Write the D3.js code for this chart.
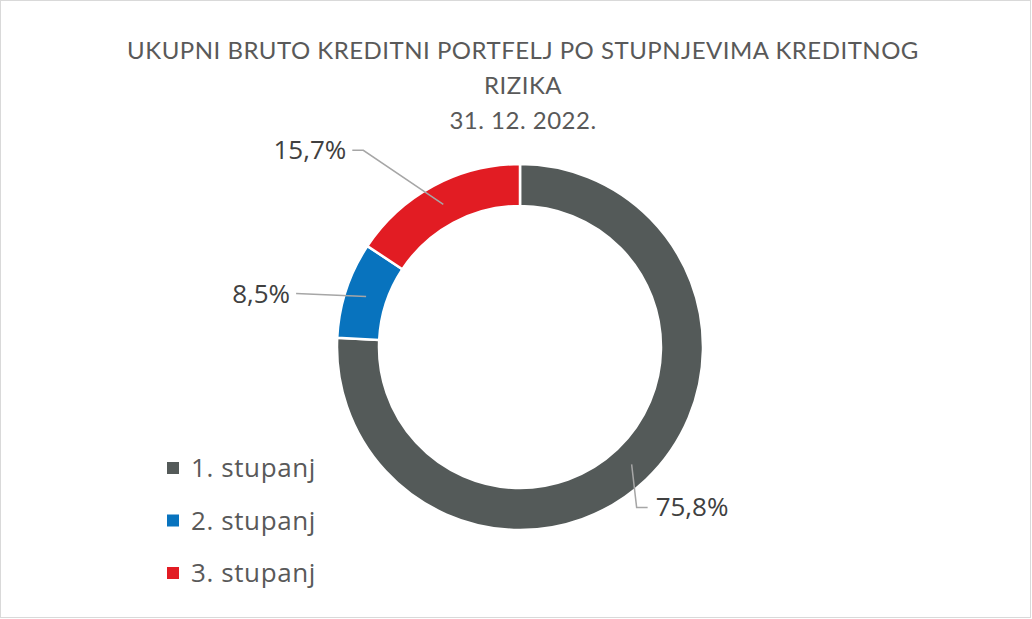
<!DOCTYPE html>
<html>
<head>
<meta charset="utf-8">
<script src="https://cdn.jsdelivr.net/npm/d3@7"></script>
<style>
  body { margin: 0; background: #fff; }
  text { font-family: Lato, "Open Sans", sans-serif; }
</style>
</head>
<body>
<div id="chart"></div>
<script>
// data
var categories = ['1. stupanj', '2. stupanj', '3. stupanj'];
var values = [75.8, 8.5, 15.7];
var colors = ['#545a59', '#0873be', '#e21c23'];
var titleLines = ['UKUPNI BRUTO KREDITNI PORTFELJ PO STUPNJEVIMA KREDITNOG', 'RIZIKA', '31. 12. 2022.'];

// label layout: where each leader line ends, relative to slice centroid
var labelOffsets = [
	{ elbow: [5, 43], end: [16, 43], anchor: 'start' },
	{ elbow: [-70, -3], end: [-70, -3], anchor: 'end' },
	{ elbow: [-80, -54], end: [-91, -54], anchor: 'end' }
];

var width = 1032, height = 619;
var cx = 520, cy = 347;
var outerR = 183, innerR = 141;

var svg = d3.select('#chart')
	.append('svg')
	.attr('width', width)
	.attr('height', height);

svg.append('rect')
	.attr('x', 0.5).attr('y', 0.5)
	.attr('width', width - 2).attr('height', height - 2)
	.attr('fill', '#fff')
	.attr('stroke', '#d9d9d9');

// title
svg.append('text')
	.attr('x', 523).attr('y', 59)
	.attr('text-anchor', 'middle')
	.attr('fill', '#595959')
	.style('font-size', '24px')
	.style('letter-spacing', '0.5px')
	.selectAll('tspan')
	.data(titleLines)
	.enter()
	.append('tspan')
	.attr('x', 523)
	.attr('dy', function(d, i) { return i == 0 ? 0 : 35; })
	.text(function(d) { return d; });

var pie = d3.pie().sort(null).value(function(d) { return d; });
var arc = d3.arc().innerRadius(innerR).outerRadius(outerR);
var mid = d3.arc().innerRadius(162).outerRadius(162);

var arcs = pie(values);
var g = svg.append('g').attr('transform', 'translate(' + cx + ',' + cy + ')');

g.selectAll('path')
	.data(arcs)
	.enter()
	.append('path')
	.attr('d', arc)
	.attr('fill', function(d, i) { return colors[i]; })
	.attr('stroke', '#fff')
	.attr('stroke-width', 2.5);

// leader lines + labels
arcs.forEach(function(d, i) {
	var c = mid.centroid(d);
	var o = labelOffsets[i];
	var pts = [c, [c[0] + o.elbow[0], c[1] + o.elbow[1]], [c[0] + o.end[0], c[1] + o.end[1]]];
	g.append('polyline')
		.attr('points', pts.map(function(p) { return p.join(','); }).join(' '))
		.attr('fill', 'none')
		.attr('stroke', '#a6a6a6')
		.attr('stroke-width', 1.5);
	var p = pts[2];
	g.append('text')
		.attr('x', p[0] + (o.anchor == 'start' ? 8 : -6))
		.attr('y', p[1])
		.attr('dy', '0.35em')
		.attr('text-anchor', o.anchor)
		.attr('fill', '#404040')
		.style('font-family', '"Open Sans", sans-serif')
		.style('font-size', '26px')
		.text(d3.format('.1f')(values[i]).replace('.', ',') + '%');
});

// legend
var legend = svg.append('g').attr('transform', 'translate(167, 468)');
var rows = legend.selectAll('g')
	.data(categories)
	.enter()
	.append('g')
	.attr('transform', function(d, i) { return 'translate(0,' + (i * 52.5) + ')'; });

rows.append('rect')
	.attr('x', 0).attr('y', -6)
	.attr('width', 12).attr('height', 12)
	.attr('fill', function(d, i) { return colors[i]; });

rows.append('text')
	.attr('x', 24).attr('y', 0)
	.attr('dy', '0.35em')
	.attr('fill', '#595959')
	.style('font-family', '"Open Sans", sans-serif')
	.style('font-size', '26px')
	.style('letter-spacing', '0.6px')
	.text(function(d) { return d; });
</script>
</body>
</html>
